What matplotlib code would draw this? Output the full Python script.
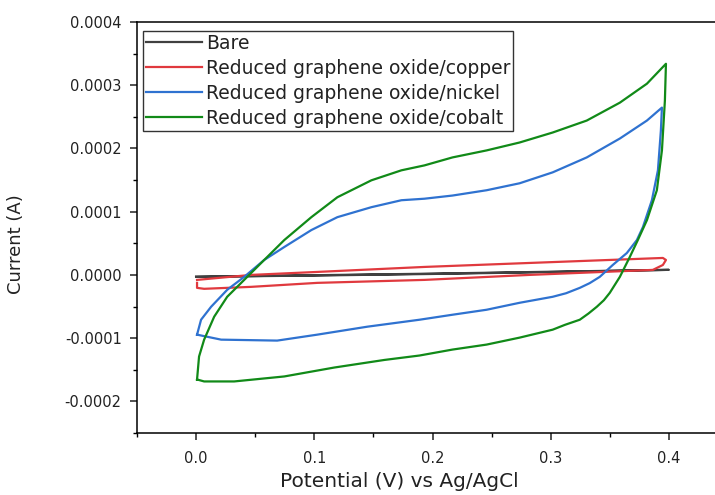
import matplotlib
matplotlib.use("Agg")
import matplotlib.pyplot as plt
from matplotlib.ticker import MultipleLocator, FormatStrFormatter

# Values (potential in V, current in A).
# Each loop: forward scan then reverse scan.
bare_x = [0.0, 0.1, 0.2, 0.3, 0.4, 0.3, 0.2, 0.1, 0.0]
bare_y = [-0.000003, -0.0000005, 0.000002, 0.000005, 0.000008,
          0.0000045, 0.0000015, -0.000001, -0.000003]

cu_x = [0.0008, 0.0466, 0.1025, 0.1932, 0.2822, 0.3949, 0.3975,
        0.3949, 0.3864, 0.2822, 0.1932, 0.1025, 0.0466, 0.0068, 0.0008, 0.0008]
cu_y = [-0.0000079, 0.0, 0.0000047, 0.0000126, 0.0000189, 0.0000268, 0.0000236,
        0.0000157, 0.0000079, 0.0, -0.0000079, -0.0000126, -0.0000189, -0.000022,
        -0.0000205, -0.0000126]

ni_x = [0.0008, 0.0042, 0.0127, 0.0263, 0.0407, 0.0576, 0.0746, 0.0975, 0.1195,
        0.1483, 0.1737, 0.1932, 0.2169, 0.2458, 0.2737, 0.3017, 0.3305, 0.3585,
        0.3814, 0.3941,
        0.3932, 0.3907, 0.3856, 0.378, 0.3729, 0.3644, 0.3525, 0.3415, 0.333, 0.3246,
        0.313, 0.3017, 0.2737, 0.2458, 0.2169, 0.189, 0.1449, 0.1025, 0.0686, 0.0212,
        0.0008]
ni_y = [-0.0000945, -0.0000709, -0.0000504, -0.0000236, -0.0000031, 0.0000236,
        0.0000441, 0.0000709, 0.0000913, 0.0001071, 0.0001181, 0.0001205, 0.0001255,
        0.0001339, 0.0001449, 0.0001622, 0.0001858, 0.0002157, 0.0002441, 0.0002646,
        0.0002283, 0.0001654, 0.0001181, 0.0000756, 0.0000551, 0.0000346, 0.0000157,
        -0.0000031, -0.000013, -0.0000205, -0.000029, -0.0000346, -0.0000441,
        -0.0000551, -0.000063, -0.0000709, -0.0000819, -0.0000945, -0.0001039,
        -0.0001024, -0.0000945]

co_x = [0.0008, 0.0025, 0.0068, 0.0153, 0.0263, 0.0407, 0.0576, 0.0746, 0.0975,
        0.1195, 0.1483, 0.1737, 0.1932, 0.2169, 0.2458, 0.2737, 0.3017, 0.3305,
        0.3585, 0.3814, 0.3975,
        0.3966, 0.3941, 0.3898, 0.3814, 0.3737, 0.3669, 0.3585, 0.35, 0.345, 0.339,
        0.332, 0.3246, 0.312, 0.3017, 0.2737, 0.2458, 0.2169, 0.189, 0.1593, 0.1169,
        0.0746, 0.0322, 0.0068, 0.0008]
co_y = [-0.0001654, -0.0001291, -0.0001024, -0.0000661, -0.0000346, -0.0000079,
        0.0000236, 0.0000551, 0.0000913, 0.0001228, 0.0001496, 0.0001654, 0.0001732,
        0.0001858, 0.0001969, 0.0002094, 0.0002252, 0.0002441, 0.0002724, 0.0003024,
        0.0003339,
        0.0002756, 0.0001969, 0.0001339, 0.0000866, 0.0000551, 0.0000283, -0.0000031,
        -0.0000283, -0.00004, -0.0000504, -0.000061, -0.0000709, -0.000079, -0.0000866,
        -0.0000992, -0.0001102, -0.0001181, -0.0001275, -0.0001345, -0.0001465,
        -0.0001606, -0.0001685, -0.0001685, -0.0001654]

labels = ["Bare", "Reduced graphene oxide/copper",
          "Reduced graphene oxide/nickel", "Reduced graphene oxide/cobalt"]
colors = ["#404040", "#e0393e", "#2f72d0", "#118a18"]

fig = plt.figure(figsize=(7.15, 4.95), dpi=100)
# axes run past the right edge like in the cropped original
ax = fig.add_axes([0.1916, 0.1253, 0.8266, 0.8303])

curves = [(bare_x, bare_y), (cu_x, cu_y), (ni_x, ni_y), (co_x, co_y)]
for (xs, ys), lab, col in zip(curves, labels, colors):
    ax.plot(xs, ys, color=col, lw=1.6, label=lab)

ax.set_xlim(-0.05, 0.45)
ax.set_ylim(-0.00025, 0.0004)

ax.xaxis.set_major_locator(MultipleLocator(0.1))
ax.xaxis.set_minor_locator(MultipleLocator(0.05))
ax.yaxis.set_major_locator(MultipleLocator(0.0001))
ax.yaxis.set_minor_locator(MultipleLocator(0.00005))
ax.xaxis.set_major_formatter(FormatStrFormatter("%.1f"))
ax.yaxis.set_major_formatter(FormatStrFormatter("%.4f"))

ax.spines["right"].set_visible(False)
for s in ["left", "bottom", "top"]:
    ax.spines[s].set_linewidth(1.1)
ax.tick_params(which="major", direction="out", length=5, width=1.1,
               labelsize=10.5, colors="#222222", top=False, right=False)
ax.tick_params(which="minor", direction="out", length=3, width=1.0,
               top=False, right=False)
ax.tick_params(axis="x", pad=8)
ax.tick_params(axis="y", pad=6)

ax.set_xlabel("Potential (V) vs Ag/AgCl", fontsize=14.5, color="#222222")
ax.xaxis.set_label_coords(0.443, -0.095)
ax.set_ylabel("Current (A)", fontsize=13, color="#222222")
ax.yaxis.set_label_coords(-0.19, 0.46)

leg = ax.legend(loc="upper left", bbox_to_anchor=(143 / 715, 1 - 31 / 495),
                bbox_transform=fig.transFigure, borderaxespad=0,
                fontsize=13.5, fancybox=False, frameon=True, edgecolor="black",
                handlelength=3.0, handletextpad=0.2, borderpad=0.15,
                labelspacing=0.32)
leg.get_frame().set_linewidth(1.0)
for t in leg.get_texts():
    t.set_color("#222222")

fig.savefig("out.png", dpi=100)
